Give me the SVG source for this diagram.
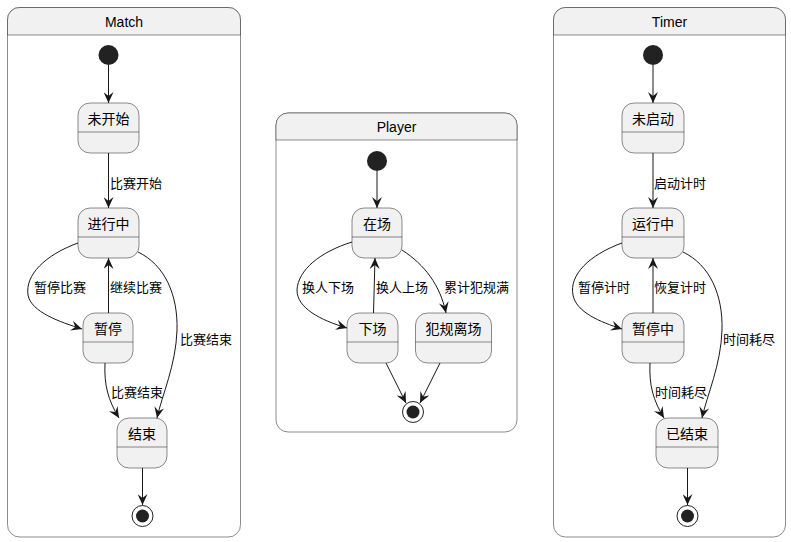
<svg xmlns="http://www.w3.org/2000/svg" width="791" height="542" viewBox="0 0 791 542">
<style>
.cont{fill:#FFFFFF;stroke:#181818;stroke-width:0.5}
.hdr{fill:#F1F1F1;stroke:#181818;stroke-width:0.5}
.st{fill:#F1F1F1;stroke:#181818;stroke-width:0.5}
.div{stroke:#181818;stroke-width:0.5}
.title{font-family:"Liberation Sans",Arial,sans-serif;font-size:14px;fill:#000;text-anchor:middle}
.name{font-family:"Noto Sans CJK SC",sans-serif;font-size:14px;fill:#000;text-anchor:middle}
.lbl{font-family:"Noto Sans CJK SC",sans-serif;font-size:13px;fill:#000}
.e{fill:none;stroke:#181818;stroke-width:1}
.init{fill:#222222}
</style>
<defs>
<marker id="ah" viewBox="0 0 12 10" refX="11" refY="5" markerWidth="12" markerHeight="10" markerUnits="userSpaceOnUse" orient="auto">
<path d="M0,0 L11,5 L0,10 L4,5 Z" fill="#181818"/>
</marker>
</defs>

<g id="Match">
<path class="cont" d="M20,7.5 H228 A12,12 0 0 1 240.5,20 V524.5 A12,12 0 0 1 228,537 H20 A12,12 0 0 1 7.5,524.5 V20 A12,12 0 0 1 20,7.5 Z"/>
<path class="hdr" d="M7.5,35 V20 A12,12 0 0 1 20,7.5 H228 A12,12 0 0 1 240.5,20 V35 Z"/>
<text class="title" x="124" y="27">Match</text>
</g>
<g id="Player">
<path class="cont" d="M288,113 H505 A12,12 0 0 1 517,125 V420 A12,12 0 0 1 505,432 H288 A12,12 0 0 1 276,420 V125 A12,12 0 0 1 288,113 Z"/>
<path class="hdr" d="M276,140 V125 A12,12 0 0 1 288,113 H505 A12,12 0 0 1 517,125 V140 Z"/>
<text class="title" x="396.5" y="132">Player</text>
</g>
<g id="Timer">
<path class="cont" d="M565.5,7.5 H773.5 A12,12 0 0 1 785.5,19.5 V525 A12,12 0 0 1 773.5,537 H565.5 A12,12 0 0 1 553.5,525 V19.5 A12,12 0 0 1 565.5,7.5 Z"/>
<path class="hdr" d="M553.5,35 V19.5 A12,12 0 0 1 565.5,7.5 H773.5 A12,12 0 0 1 785.5,19.5 V35 Z"/>
<text class="title" x="669.5" y="27">Timer</text>
</g>

<g id="match_init"><circle class="init" cx="108.5" cy="55" r="10"/></g>
<g id="match_notstarted"><rect class="st" x="78" y="103" width="61" height="50" rx="12"/><line class="div" x1="78" y1="132" x2="139" y2="132"/><text class="name" x="108.5" y="124">未开始</text></g>
<g id="match_running"><rect class="st" x="78" y="208" width="61" height="50" rx="12"/><line class="div" x1="78" y1="237" x2="139" y2="237"/><text class="name" x="108.5" y="229">进行中</text></g>
<g id="match_paused"><rect class="st" x="83" y="313" width="50" height="50" rx="12"/><line class="div" x1="83" y1="342" x2="133" y2="342"/><text class="name" x="108" y="334">暂停</text></g>
<g id="match_ended"><rect class="st" x="117" y="418" width="50" height="50" rx="12"/><line class="div" x1="117" y1="447" x2="167" y2="447"/><text class="name" x="142" y="439">结束</text></g>
<g id="match_final"><circle cx="142.5" cy="516" r="10.5" fill="none" stroke="#222" stroke-width="1"/><circle class="init" cx="142.5" cy="516" r="6.5"/></g>

<g id="player_init"><circle class="init" cx="377" cy="161" r="10"/></g>
<g id="player_on"><rect class="st" x="352" y="208" width="50" height="50" rx="12"/><line class="div" x1="352" y1="237" x2="402" y2="237"/><text class="name" x="377" y="229">在场</text></g>
<g id="player_off"><rect class="st" x="347" y="313" width="51" height="50" rx="12"/><line class="div" x1="347" y1="342" x2="398" y2="342"/><text class="name" x="372.5" y="334">下场</text></g>
<g id="player_fouled"><rect class="st" x="415.5" y="313" width="76" height="50" rx="12"/><line class="div" x1="415.5" y1="342" x2="491.5" y2="342"/><text class="name" x="453.5" y="334">犯规离场</text></g>
<g id="player_final"><circle cx="413" cy="412" r="10.5" fill="none" stroke="#222" stroke-width="1"/><circle class="init" cx="413" cy="412" r="6.5"/></g>

<g id="timer_init"><circle class="init" cx="653" cy="55" r="10"/></g>
<g id="timer_notstarted"><rect class="st" x="622" y="103" width="62" height="50" rx="12"/><line class="div" x1="622" y1="132" x2="684" y2="132"/><text class="name" x="653" y="124">未启动</text></g>
<g id="timer_running"><rect class="st" x="622" y="208" width="62" height="50" rx="12"/><line class="div" x1="622" y1="237" x2="684" y2="237"/><text class="name" x="653" y="229">运行中</text></g>
<g id="timer_paused"><rect class="st" x="622" y="313" width="62" height="50" rx="12"/><line class="div" x1="622" y1="342" x2="684" y2="342"/><text class="name" x="653" y="334">暂停中</text></g>
<g id="timer_ended"><rect class="st" x="656" y="418" width="62" height="50" rx="12"/><line class="div" x1="656" y1="447" x2="718" y2="447"/><text class="name" x="687" y="439">已结束</text></g>
<g id="timer_final"><circle cx="687.5" cy="516" r="10.5" fill="none" stroke="#222" stroke-width="1"/><circle class="init" cx="687.5" cy="516" r="6.5"/></g>

<g id="connectors">
<path class="e" marker-end="url(#ah)" d="M108.5,65 V103"/>
<path class="e" marker-end="url(#ah)" d="M108.5,153 V208"/>
<path class="e" marker-end="url(#ah)" d="M78,243 C45,255 25,275 28,295 C31,312 60,322 82,329"/>
<path class="e" marker-end="url(#ah)" d="M108.5,313 V258"/>
<path class="e" marker-end="url(#ah)" d="M138,252 C165,265 178,295 177,330 C176,365 162,395 157,418"/>
<path class="e" marker-end="url(#ah)" d="M105,363 C104,385 108,400 119,418"/>
<path class="e" marker-end="url(#ah)" d="M142.5,468 V505"/>

<path class="e" marker-end="url(#ah)" d="M377,171 V208"/>
<path class="e" marker-end="url(#ah)" d="M352,242 C320,252 298,270 297,290 C297,308 320,320 347,328"/>
<path class="e" marker-end="url(#ah)" d="M373.5,313 L375,258"/>
<path class="e" marker-end="url(#ah)" d="M402,250 C425,265 440,285 446,313"/>
<path class="e" marker-end="url(#ah)" d="M386,363 L406,403"/>
<path class="e" marker-end="url(#ah)" d="M440,363 L420,403"/>

<path class="e" marker-end="url(#ah)" d="M653,65 V103"/>
<path class="e" marker-end="url(#ah)" d="M653,153 V208"/>
<path class="e" marker-end="url(#ah)" d="M622,243 C589,255 569,275 573,295 C576,312 600,322 622,329"/>
<path class="e" marker-end="url(#ah)" d="M653,313 V258"/>
<path class="e" marker-end="url(#ah)" d="M683,252 C710,265 723,295 722,330 C721,365 707,395 702,418"/>
<path class="e" marker-end="url(#ah)" d="M650,363 C649,385 653,400 664,418"/>
<path class="e" marker-end="url(#ah)" d="M687.5,468 V505"/>

<text class="lbl" x="110" y="188">比赛开始</text>
<text class="lbl" x="34" y="292">暂停比赛</text>
<text class="lbl" x="110" y="292">继续比赛</text>
<text class="lbl" x="180" y="344">比赛结束</text>
<text class="lbl" x="111" y="397">比赛结束</text>

<text class="lbl" x="302" y="292">换人下场</text>
<text class="lbl" x="376" y="292">换人上场</text>
<text class="lbl" x="444" y="292">累计犯规满</text>

<text class="lbl" x="654" y="188">启动计时</text>
<text class="lbl" x="578" y="292">暂停计时</text>
<text class="lbl" x="654" y="292">恢复计时</text>
<text class="lbl" x="723" y="344">时间耗尽</text>
<text class="lbl" x="655" y="397">时间耗尽</text>
</g>
</svg>
